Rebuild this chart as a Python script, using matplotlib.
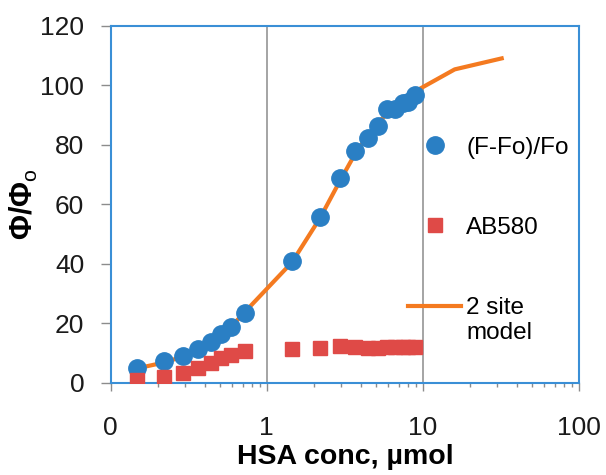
import matplotlib
matplotlib.use("Agg")
import matplotlib.pyplot as plt
from matplotlib.ticker import LogLocator, NullFormatter

plt.rcParams['font.family'] = ['Liberation Sans', 'DejaVu Sans']
plt.rcParams['mathtext.fontset'] = 'custom'
plt.rcParams['mathtext.rm'] = 'Liberation Sans'
plt.rcParams['mathtext.bf'] = 'Liberation Sans:bold'

# HSA concentration (umol)
hsa_conc = [0.147, 0.22, 0.29, 0.36, 0.44, 0.51, 0.59, 0.73, 1.45, 2.2,
            2.95, 3.68, 4.44, 5.19, 5.88, 6.64, 7.44, 8.09, 8.93]
# (F-Fo)/Fo
ratio_f = [5.0, 7.3, 9.0, 11.3, 13.6, 16.3, 18.6, 23.3, 41.0, 55.6,
           68.8, 77.9, 82.2, 86.4, 92.1, 92.1, 94.0, 94.5, 96.8]
# AB580
ab580 = [1.0, 2.0, 3.4, 4.8, 6.7, 8.2, 9.3, 10.7, 11.2, 11.7,
         12.2, 12.0, 11.7, 11.7, 12.0, 12.0, 12.0, 12.0, 12.0]
# 2 site model
model_x = hsa_conc + [16.0, 32.0]
model_y = [4.8, 6.8, 8.8, 11.0, 13.5, 16.0, 18.8, 24.0, 40.5, 55.5,
           68.0, 77.0, 83.0, 87.5, 90.5, 93.0, 95.0, 96.5, 98.0, 105.4, 109.1]

blue = '#2a7fc4'
red = '#df4a47'
orange = '#f47a20'
border = '#3a8fd6'
grey = '#8c8c8c'

fig = plt.figure(figsize=(6.06, 4.75), dpi=100)
ax = fig.add_axes([0.1827, 0.1943, 0.7726, 0.751])

ax.plot(hsa_conc, ratio_f, 'o', color=blue, markersize=12.5, label='(F-Fo)/Fo', zorder=3)
ax.plot(hsa_conc, ab580, 's', color=red, markersize=10, label='AB580', zorder=3)
ax.plot(model_x, model_y, '-', color=orange, linewidth=3, label='2 site', zorder=2)

ax.set_xscale('log')
ax.set_xlim(0.1, 100)
ax.set_ylim(0, 120)
ax.set_xticks([0.1, 1, 10, 100], labels=['0', '1', '10', '100'])
ax.xaxis.set_minor_locator(LogLocator(base=10, subs=range(2, 10)))
ax.xaxis.set_minor_formatter(NullFormatter())
ax.set_yticks(range(0, 121, 20))

ax.grid(axis='x', which='major', color=grey, linewidth=1.1)
ax.set_axisbelow(True)

for s in ax.spines.values():
    s.set_color(border)
    s.set_linewidth(1.5)

ax.tick_params(axis='y', which='major', direction='out', length=7, width=1,
               color=grey, labelsize=19, pad=12, labelcolor='#1a1a1a')
ax.tick_params(axis='x', which='major', direction='out', length=6, width=1,
               color=grey, labelsize=19, pad=18, labelcolor='#1a1a1a')
ax.tick_params(axis='x', which='minor', direction='out', length=3, width=1,
               color=grey)

ax.set_xlabel('HSA conc, µmol', fontsize=20.5, fontweight='bold', labelpad=3)
ax.set_ylabel(r'$\mathbf{\Phi/\Phi}_\mathrm{o}$', fontsize=22, labelpad=0)

leg = ax.legend(loc='upper left', bbox_to_anchor=(0.635, 0.69), frameon=False,
                fontsize=17.5, borderpad=0, borderaxespad=0, handlelength=2.2,
                handletextpad=0.2, labelspacing=2.4, numpoints=1)
# second line of the model label, under "2 site" (drawn after the legend)
ax.annotate('model', xy=(0, 0), xycoords=leg.get_texts()[2],
            xytext=(0, -2), textcoords='offset points',
            ha='left', va='top', fontsize=17.5, zorder=10)

fig.savefig('out.png', dpi=100)
